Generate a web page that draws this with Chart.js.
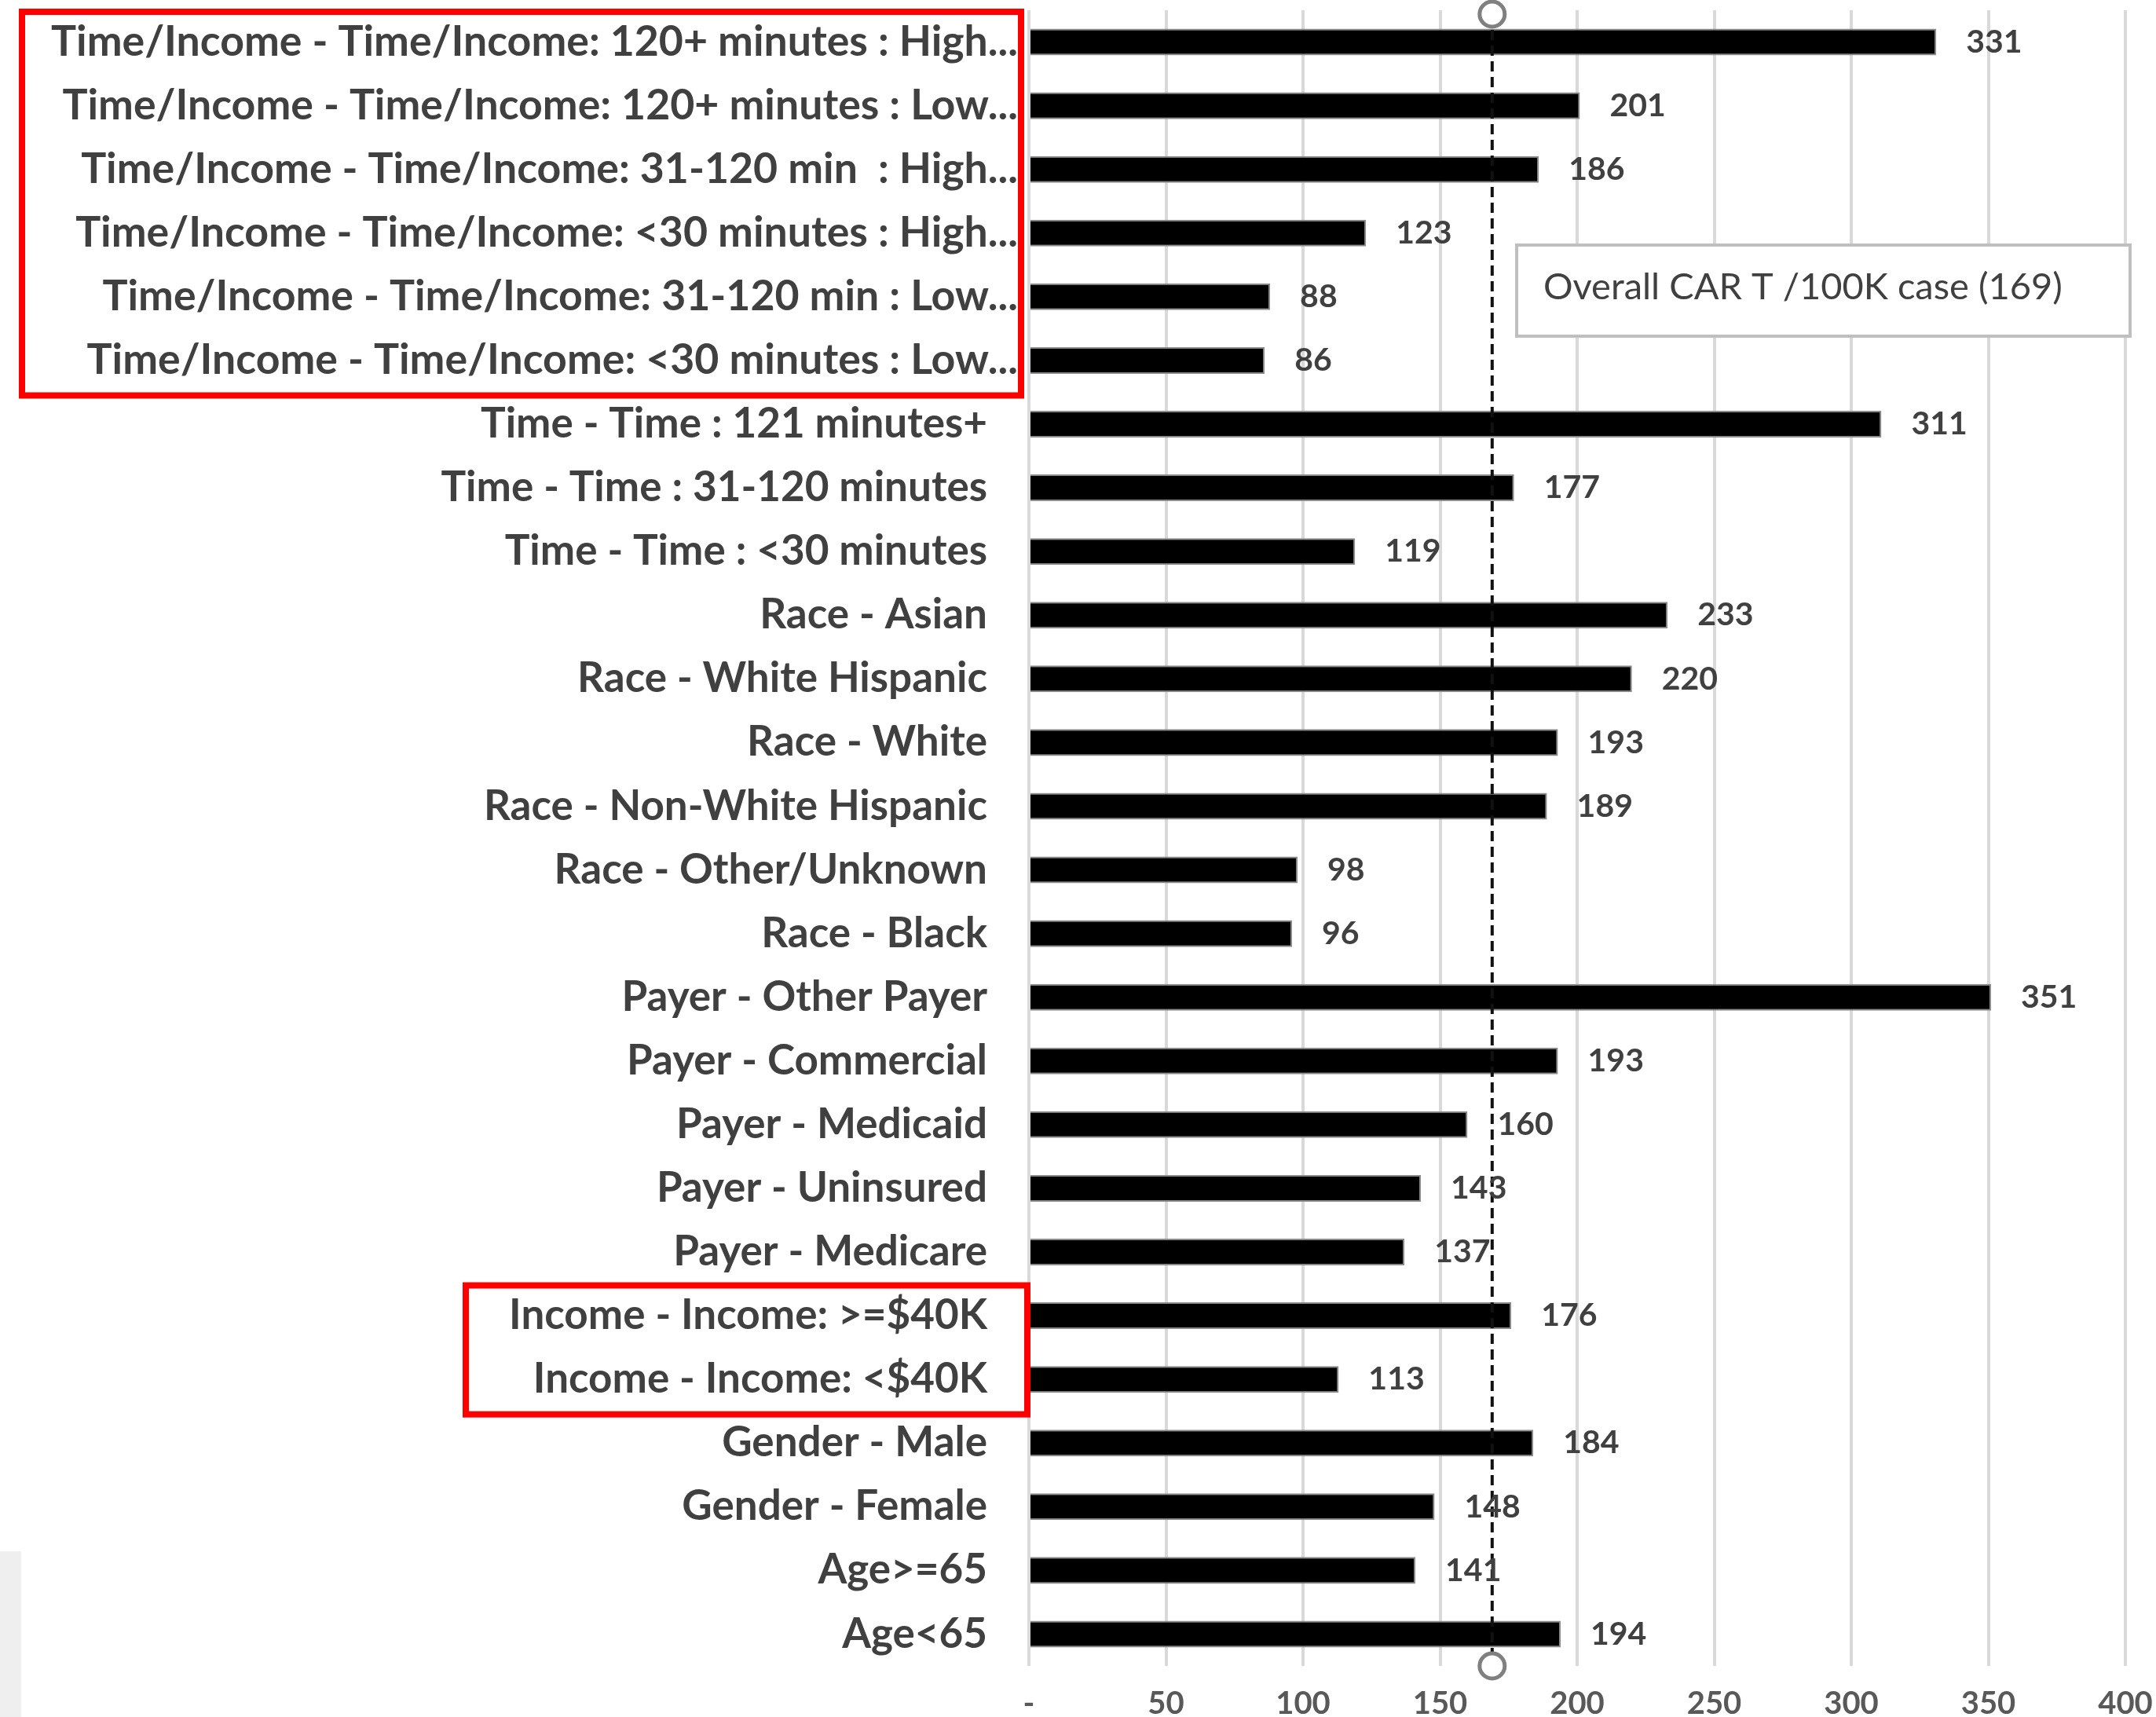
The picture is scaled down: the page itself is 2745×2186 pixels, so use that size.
<!DOCTYPE html>
<html>
<head>
<meta charset="utf-8">
<title>CAR T per 100K cases</title>
<script src="https://cdn.jsdelivr.net/npm/chart.js@4.4.1/dist/chart.umd.min.js"></script>
<style>
  html, body { margin: 0; padding: 0; background: #fff; overflow: hidden; }
  #wrap { position: relative; width: 2745px; height: 2186px; }
</style>
</head>
<body>
<div id="wrap"><canvas id="chart"></canvas></div>
<script>
// categories, top to bottom
const categories = [
  'Time/Income - Time/Income: 120+ minutes : High...',
  'Time/Income - Time/Income: 120+ minutes : Low...',
  'Time/Income - Time/Income: 31-120 min  : High...',
  'Time/Income - Time/Income: <30 minutes : High...',
  'Time/Income - Time/Income: 31-120 min : Low...',
  'Time/Income - Time/Income: <30 minutes : Low...',
  'Time - Time : 121 minutes+',
  'Time - Time : 31-120 minutes',
  'Time - Time : <30 minutes',
  'Race - Asian',
  'Race - White Hispanic',
  'Race - White',
  'Race - Non-White Hispanic',
  'Race - Other/Unknown',
  'Race - Black',
  'Payer - Other Payer',
  'Payer - Commercial',
  'Payer - Medicaid',
  'Payer - Uninsured',
  'Payer - Medicare',
  'Income - Income: >=$40K',
  'Income - Income: <$40K',
  'Gender - Male',
  'Gender - Female',
  'Age>=65',
  'Age<65'
];

// CAR T per 100K cases
const rates = [331, 201, 186, 123, 88, 86, 311, 177, 119, 233, 220, 193, 189, 98, 96, 351, 193, 160, 143, 137, 176, 113, 184, 148, 141, 194];

const overallRate = 169;
const overallLabel = 'Overall CAR T /100K case (169)';

const tickLabels = ['-', '50', '100', '150', '200', '250', '300', '350', '400'];

// rows wrapped in the red highlight boxes: [firstRow, lastRow, left, right]
const highlightRows = [[0, 5, 28, 1300], [20, 21, 593, 1308]];

const TEXT = '#404040';
const FONT = 'Lato, "Open Sans", sans-serif';

Chart.defaults.font.family = FONT;

// dashed overall-rate line with hollow end markers
const overallLine = {
  id: 'overallLine',
  afterDatasetsDraw(chart) {
    const { ctx, chartArea: { top, bottom }, scales: { x } } = chart;
    const px = x.getPixelForValue(overallRate);
    const ends = [top + 5, bottom];
    ctx.save();
    ctx.strokeStyle = '#111';
    ctx.lineWidth = 4;
    ctx.setLineDash([13, 7]);
    ctx.beginPath();
    ctx.moveTo(px, ends[0]);
    ctx.lineTo(px, ends[1]);
    ctx.stroke();
    ctx.setLineDash([]);
    ctx.strokeStyle = '#808080';
    ctx.lineWidth = 5;
    ctx.fillStyle = '#fff';
    ends.forEach(cy => {
      ctx.beginPath();
      ctx.arc(px, cy, 16, 0, Math.PI * 2);
      ctx.fill();
      ctx.stroke();
    });
    ctx.restore();
  }
};

const sideLabels = {
  id: 'sideLabels',
  afterDatasetsDraw(chart) {
    const { ctx } = chart;
    const meta = chart.getDatasetMeta(0);
    ctx.save();
    ctx.fillStyle = TEXT;
    ctx.font = `bold 41px ${FONT}`;
    ctx.textAlign = 'left';
    ctx.textBaseline = 'middle';
    meta.data.forEach((bar, i) => {
      ctx.fillText(String(rates[i]), bar.x + 38, bar.y);
    });
    ctx.restore();
  },
  afterDraw(chart) {
    const { ctx, scales: { y } } = chart;
    const band = y.getPixelForValue(1) - y.getPixelForValue(0);

    ctx.save();
    // category names, long Time/Income ones sit further right
    ctx.fillStyle = TEXT;
    ctx.textAlign = 'right';
    ctx.textBaseline = 'middle';
    categories.forEach((name, i) => {
      const long = name.startsWith('Time/Income');
      ctx.font = `bold ${long ? 53.6 : 53}px ${FONT}`;
      ctx.fillText(name, long ? 1296 : 1257, y.getPixelForValue(i));
    });

    // red highlight boxes
    ctx.strokeStyle = '#ff0000';
    ctx.lineWidth = 8;
    highlightRows.forEach(([a, b, left, right]) => {
      const top = y.getPixelForValue(a) - band / 2 + 2;
      const bottom = y.getPixelForValue(b) + band / 2 + 4;
      ctx.strokeRect(left, top, right - left, bottom - top);
    });

    // overall rate callout
    ctx.fillStyle = '#fff';
    ctx.fillRect(1931, 312, 781, 116);
    ctx.strokeStyle = '#bfbfbf';
    ctx.lineWidth = 4;
    ctx.strokeRect(1931, 312, 781, 116);
    ctx.fillStyle = TEXT;
    ctx.font = `47px ${FONT}`;
    ctx.textAlign = 'left';
    ctx.fillText(overallLabel, 1965, 366);

    // grey strip at the lower left edge
    ctx.fillStyle = '#efefef';
    ctx.fillRect(0, 1975, 27, 220);
    ctx.restore();
  }
};

new Chart(document.getElementById('chart'), {
  type: 'bar',
  data: {
    labels: categories,
    datasets: [{
      data: rates,
      backgroundColor: '#000',
      borderColor: '#8a8a8a',
      borderWidth: 2,
      barPercentage: 0.42,
      categoryPercentage: 1
    }]
  },
  options: {
    indexAxis: 'y',
    responsive: true,
    maintainAspectRatio: false,
    animation: false,
    layout: { padding: { left: 1310, right: 39, top: 13, bottom: 0 } },
    scales: {
      x: {
        type: 'linear',
        min: 0,
        max: 400,
        border: { display: false },
        grid: { color: '#d9d9d9', lineWidth: 4, drawTicks: false },
        ticks: {
          stepSize: 50,
          autoSkip: false,
          maxRotation: 0,
          padding: 4,
          color: '#595959',
          // tall line box pushes the labels down to the canvas edge
          font: { size: 40, weight: 'bold', lineHeight: 2.2 },
          callback: (v, i) => tickLabels[i]
        },
        afterFit: scale => { scale.height = 65; }
      },
      y: { type: 'category', display: false }
    },
    plugins: {
      legend: { display: false },
      tooltip: { enabled: false }
    }
  },
  plugins: [overallLine, sideLabels]
});
</script>
</body>
</html>
